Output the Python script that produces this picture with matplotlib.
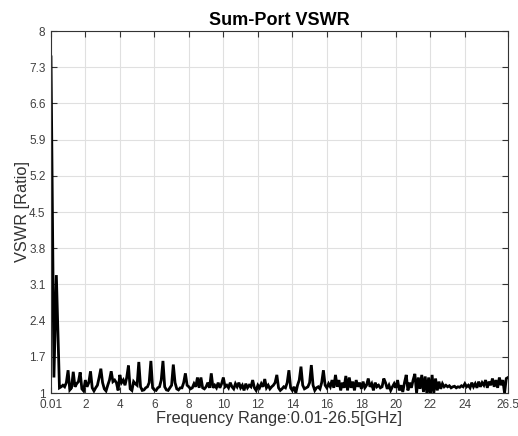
import numpy as np
import matplotlib
matplotlib.use("Agg")
import matplotlib.pyplot as plt

plt.rcParams['font.family'] = ['Liberation Sans', 'DejaVu Sans']

# ---- data ----
head_freq = [0.01, 0.18, 0.32, 0.5]
head_vswr = [7.5, 1.3, 3.28, 1.1]

body_start = 0.6
body_step = 0.1
body_vswr = [
    1.12, 1.15, 1.12, 1.20,
    1.44, 1.06, 1.10, 1.41, 1.12, 1.18, 1.22, 1.40, 1.08, 1.04,
    1.25, 1.12, 1.20, 1.42, 1.10, 1.04, 1.10, 1.15, 1.30, 1.47,
    1.20, 1.08, 1.04, 1.15, 1.25, 1.42, 1.22, 1.25, 1.20, 1.05,
    1.35, 1.20, 1.25, 1.15, 1.30, 1.53, 1.08, 1.05, 1.22, 1.18,
    1.15, 1.60, 1.12, 1.05, 1.06, 1.10, 1.12, 1.20, 1.62, 1.10,
    1.06, 1.05, 1.10, 1.12, 1.25, 1.62, 1.12, 1.06, 1.05, 1.10,
    1.15, 1.55, 1.20, 1.08, 1.06, 1.10, 1.10, 1.20, 1.38, 1.15,
    1.12, 1.08, 1.10, 1.18, 1.12, 1.30, 1.10, 1.30, 1.10, 1.08,
    1.12, 1.20, 1.10, 1.38, 1.10, 1.15, 1.10, 1.20, 1.10, 1.18,
    1.30, 1.12, 1.15, 1.10, 1.20, 1.12, 1.08, 1.18, 1.12, 1.20,
    1.10, 1.15, 1.05, 1.18, 1.10, 1.15, 1.12, 1.25, 1.10, 1.05,
    1.15, 1.10, 1.18, 1.12, 1.27, 1.10, 1.15, 1.08, 1.12, 1.15,
    1.20, 1.35, 1.10, 1.05, 1.08, 1.12, 1.10, 1.20, 1.44, 1.10,
    1.05, 1.12, 1.00, 1.15, 1.25, 1.51, 1.15, 1.08, 1.10, 1.12,
    1.20, 1.54, 1.15, 1.05, 1.10, 1.12, 1.08, 1.20, 1.44, 1.15,
    1.10, 1.18, 1.12, 1.25, 1.10, 1.35, 1.12, 1.25, 1.05, 1.20,
    1.10, 1.33, 1.05, 1.30, 1.10, 1.22, 1.05, 1.25, 1.12, 1.20,
    1.08, 1.22, 1.10, 1.15, 1.28, 1.12, 1.18, 1.05, 1.20, 1.12,
    1.15, 1.10, 1.12, 1.28, 1.20, 1.08, 1.15, 1.05, 1.12, 1.18,
    1.10, 1.25, 1.05, 1.15, 1.02, 1.20, 1.35, 1.05, 1.20, 1.10,
    1.25, 1.37, 1.00, 1.30, 1.08, 1.35, 1.02, 1.32, 0.98, 1.30,
    0.95, 1.35, 1.00, 1.28, 1.05, 1.22, 1.08, 1.18, 1.12, 1.15,
    1.12, 1.14, 1.10, 1.12, 1.13, 1.10, 1.12, 1.11, 1.14, 1.12,
    1.18, 1.12, 1.15, 1.10, 1.20, 1.12, 1.18, 1.10, 1.22, 1.12,
    1.20, 1.15, 1.25, 1.10, 1.22, 1.15, 1.28, 1.12, 1.25, 1.10,
    1.30, 1.15, 1.25, 1.00, 1.28, 1.30,
]

x_ticks = [0.01, 2, 4, 6, 8, 10, 12, 14, 16, 18, 20, 22, 24, 26.5]
x_tick_labels = ["0.01", "2", "4", "6", "8", "10", "12", "14", "16", "18",
                 "20", "22", "24", "26.5"]
y_ticks = [1, 1.7, 2.4, 3.1, 3.8, 4.5, 5.2, 5.9, 6.6, 7.3, 8]
y_tick_labels = ["1", "1.7", "2.4", "3.1", "3.8", "4.5", "5.2", "5.9",
                 "6.6", "7.3", "8"]

body_freq = body_start + body_step * np.arange(len(body_vswr))
freq = np.concatenate([head_freq, body_freq])
vswr = np.concatenate([head_vswr, body_vswr])

fig = plt.figure(figsize=(5.18, 4.36), dpi=100)
ax = fig.add_axes([51/518, 43/436, 457/518, 362/436])

ax.plot(freq, vswr, color='black', linewidth=2.0, solid_joinstyle='miter')

ax.set_xlim(0.01, 26.5)
ax.set_ylim(1, 8)
ax.set_xticks(x_ticks)
ax.set_xticklabels(x_tick_labels)
ax.set_yticks(y_ticks)
ax.set_yticklabels(y_tick_labels)
ax.grid(True, color='#e0e0e0', linewidth=0.8)
ax.set_axisbelow(True)
ax.tick_params(direction='in', top=True, right=True, length=4, width=0.8,
               labelsize=8.5, labelcolor='#404040', color='#333333', pad=4)
for s in ax.spines.values():
    s.set_color('#333333')
    s.set_linewidth(0.8)

ax.set_title("Sum-Port VSWR", fontsize=13, fontweight='bold', pad=4)
ax.set_xlabel("Frequency Range:0.01-26.5[GHz]", fontsize=11.8, color='#333333', labelpad=0)
ax.set_ylabel("VSWR [Ratio]", fontsize=11.8, color='#333333', labelpad=-1)

fig.savefig("out.png", dpi=100)
